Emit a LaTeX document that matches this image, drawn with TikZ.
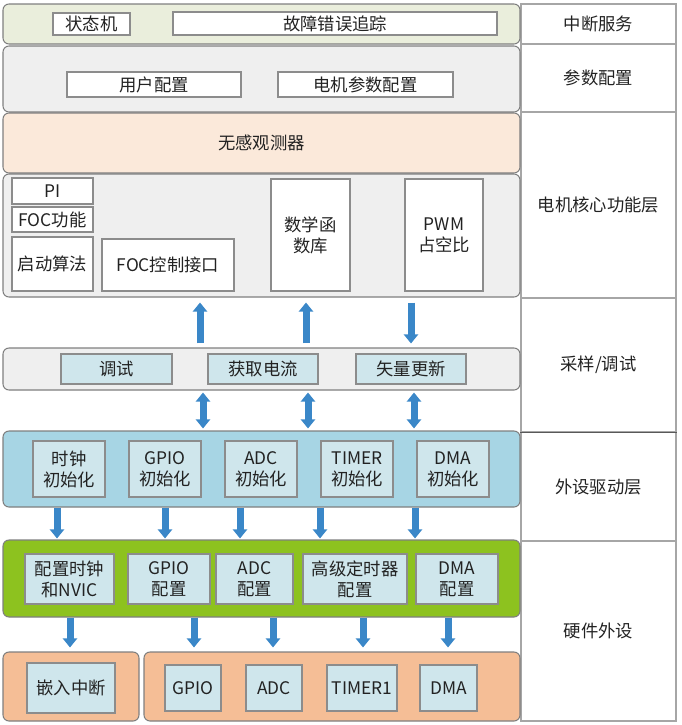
\documentclass[tikz,border=0pt]{standalone}
\usepackage{fontspec}
\setmainfont{Noto Sans CJK SC}
\usetikzlibrary{fit,arrows.meta}
\definecolor{txt}{HTML}{222222}
\definecolor{pline}{HTML}{7F7F7F}
\definecolor{bline}{HTML}{8C8C8C}
\definecolor{cline}{HTML}{A6A6A6}
\definecolor{fgreenbeige}{HTML}{EAEEDC}
\definecolor{fgray}{HTML}{EFEFEF}
\definecolor{fpeach}{HTML}{FBE9DA}
\definecolor{flblue}{HTML}{CFE6EC}
\definecolor{fblue}{HTML}{A7D5E4}
\definecolor{fgreen}{HTML}{8DC21F}
\definecolor{forange}{HTML}{F5BE96}
\definecolor{arrblue}{HTML}{3A87C8}
\begin{document}
\begin{tikzpicture}[x=0.75pt,y=-0.75pt,
  font=\fontsize{13}{15.8}\selectfont, text=txt,
  panel/.style={draw=pline, line width=0.8pt, rounded corners=4.5pt, inner sep=0pt},
  wbox/.style={draw=bline, line width=0.8pt, fill=white, inner sep=0pt},
  lbbox/.style={draw=bline, line width=0.8pt, fill=flblue, inner sep=0pt},
  cell/.style={draw=cline, line width=0.8pt, inner sep=0pt},
  lab/.style={inner sep=0pt, anchor=center, align=center},
  uarr/.style={draw=arrblue, line width=5.25pt, -{Triangle[length=6.75pt,width=10.5pt]}},
  darr/.style={draw=arrblue, line width=5.25pt, {Triangle[length=6.75pt,width=10.5pt]}-{Triangle[length=6.75pt,width=10.5pt]}}
]
\useasboundingbox (0,0) rectangle (682,725);

% right column
\node[cell, fit={(521,4) (676,44)}] (c1) {};
\node[cell, fit={(521,44) (676,112)}] (c2) {};
\node[cell, fit={(521,112) (676,298)}] (c3) {};
\node[cell, fit={(521,298) (676,432)}] (c4) {};
\node[cell, fit={(521,432) (676,541)}] (c5) {};
\node[cell, fit={(521,541) (676,721)}] (c6) {};
\draw[draw=black!65, line width=1.2pt] (c4.south west) -- (c4.south east);
\node[lab] at (c1) {中断服务};
\node[lab] at (c2) {参数配置};
\node[lab] at (c3) {电机核心功能层};
\node[lab] at (c4) {采样/调试};
\node[lab] at (c5) {外设驱动层};
\node[lab] at (c6) {硬件外设};

% row 1
\node[panel, fill=fgreenbeige, fit={(3,4) (520,44)}] (p1) {};
\node[wbox, fit={(53,13) (130,35)}] (zt) {};
\node[wbox, fit={(173,12) (497,35)}] (gz) {};
\node[lab] at (zt) {状态机};
\node[lab] at (gz) {故障错误追踪};

% row 2
\node[panel, fill=fgray, fit={(3,46) (520,112)}] (p2) {};
\node[wbox, fit={(67,72) (241,97)}] (yh) {};
\node[wbox, fit={(278,72) (453,97)}] (dj) {};
\node[lab] at (yh) {用户配置};
\node[lab] at (dj) {电机参数配置};

% observer
\node[panel, fill=fpeach, fit={(3,113) (520,173)}] (obs) {};
\node[lab] at (obs) {无感观测器};

% core
\node[panel, fill=fgray, fit={(3,174) (520,297)}] (core) {};
\node[wbox, fit={(12,178) (93,204)}] (pi) {};
\node[wbox, fit={(12,207) (93,232)}] (focf) {};
\node[wbox, fit={(12,237) (93,291)}] (qd) {};
\node[wbox, fit={(102,239) (234,291)}] (focj) {};
\node[wbox, fit={(271,179) (350,291)}] (sx) {};
\node[wbox, fit={(405,179) (483,291)}] (pwm) {};
\node[lab] at (pi) {PI};
\node[lab] at (focf) {FOC功能};
\node[lab] at (qd) {启动算法};
\node[lab] at (focj) {FOC控制接口};
\node[lab] at (sx) {数学函\\数库};
\node[lab] at (pwm) {PWM\\占空比};

% sampling
\node[panel, fill=fgray, fit={(3,348) (520,390)}] (samp) {};
\node[lbbox, fit={(61,354) (172,384)}] (ts) {};
\node[lbbox, fit={(208,354) (318,384)}] (hq) {};
\node[lbbox, fit={(356,354) (466,384)}] (sl) {};
\node[lab] at (ts) {调试};
\node[lab] at (hq) {获取电流};
\node[lab] at (sl) {矢量更新};

% peripheral driver layer
\node[panel, fill=fblue, fit={(3,431) (520,507)}] (drv) {};
\node[lbbox, fit={(33,441) (105,497)}] (d1) {};
\node[lbbox, fit={(129,441) (201,497)}] (d2) {};
\node[lbbox, fit={(225,441) (297,497)}] (d3) {};
\node[lbbox, fit={(321,441) (393,497)}] (d4) {};
\node[lbbox, fit={(417,441) (489,497)}] (d5) {};
\node[lab] at (d1) {时钟\\初始化};
\node[lab] at (d2) {GPIO\\初始化};
\node[lab] at (d3) {ADC\\初始化};
\node[lab] at (d4) {TIMER\\初始化};
\node[lab] at (d5) {DMA\\初始化};

% hardware config layer
\node[panel, fill=fgreen, fit={(3,540) (520,617)}] (hw) {};
\node[lbbox, fit={(25,554) (114,604)}] (h1) {};
\node[lbbox, fit={(128,554) (210,604)}] (h2) {};
\node[lbbox, fit={(216,554) (293,604)}] (h3) {};
\node[lbbox, fit={(303,554) (407,604)}] (h4) {};
\node[lbbox, fit={(416,554) (498,604)}] (h5) {};
\node[lab] at (h1) {配置时钟\\和NVIC};
\node[lab] at (h2) {GPIO\\配置};
\node[lab] at (h3) {ADC\\配置};
\node[lab] at (h4) {高级定时器\\配置};
\node[lab] at (h5) {DMA\\配置};

% hardware
\node[panel, fill=forange, fit={(3,652) (139,721)}] (ol) {};
\node[panel, fill=forange, fit={(144,652) (520,721)}] (or) {};
\node[lbbox, fit={(27,663) (115,713)}] (o1) {};
\node[lbbox, fit={(165,665) (221,711)}] (o2) {};
\node[lbbox, fit={(246,665) (302,711)}] (o3) {};
\node[lbbox, fit={(327,665) (397,711)}] (o4) {};
\node[lbbox, fit={(420,665) (477,711)}] (o5) {};
\node[lab] at (o1) {嵌入中断};
\node[lab] at (o2) {GPIO};
\node[lab] at (o3) {ADC};
\node[lab] at (o4) {TIMER1};
\node[lab] at (o5) {DMA};

% arrow x positions
\coordinate (ua) at (200,0);
\coordinate (ub) at (306,0);
\coordinate (uc) at (411,0);
\coordinate (da) at (203,0);
\coordinate (db) at (308,0);
\coordinate (dc) at (414,0);
\coordinate (ba) at (57,0);
\coordinate (bb) at (165,0);
\coordinate (bc) at (240,0);
\coordinate (bd) at (320,0);
\coordinate (be) at (415,0);
\coordinate (ga) at (70,0);
\coordinate (gb) at (194,0);
\coordinate (gc) at (273,0);
\coordinate (gd) at (363,0);
\coordinate (ge) at (448,0);

\draw[uarr, shorten <=3pt, shorten >=3.75pt] (ua |- samp.north) -- (ua |- core.south);
\draw[uarr, shorten <=3pt, shorten >=3.75pt] (ub |- samp.north) -- (ub |- core.south);
\draw[uarr, shorten <=3.75pt, shorten >=3pt] (uc |- core.south) -- (uc |- samp.north);

\draw[darr, shorten <=1.5pt, shorten >=1.5pt] (da |- samp.south) -- (da |- drv.north);
\draw[darr, shorten <=1.5pt, shorten >=1.5pt] (db |- samp.south) -- (db |- drv.north);
\draw[darr, shorten <=1.5pt, shorten >=1.5pt] (dc |- samp.south) -- (dc |- drv.north);

\foreach \c in {ba,bb,bc,bd,be}
  \draw[uarr, shorten >=0.75pt] (\c |- drv.south) -- (\c |- hw.north);
\foreach \c in {ga,gb,gc,gd,ge}
  \draw[uarr, shorten >=3pt] (\c |- hw.south) -- (\c |- or.north);
\end{tikzpicture}
\end{document}
